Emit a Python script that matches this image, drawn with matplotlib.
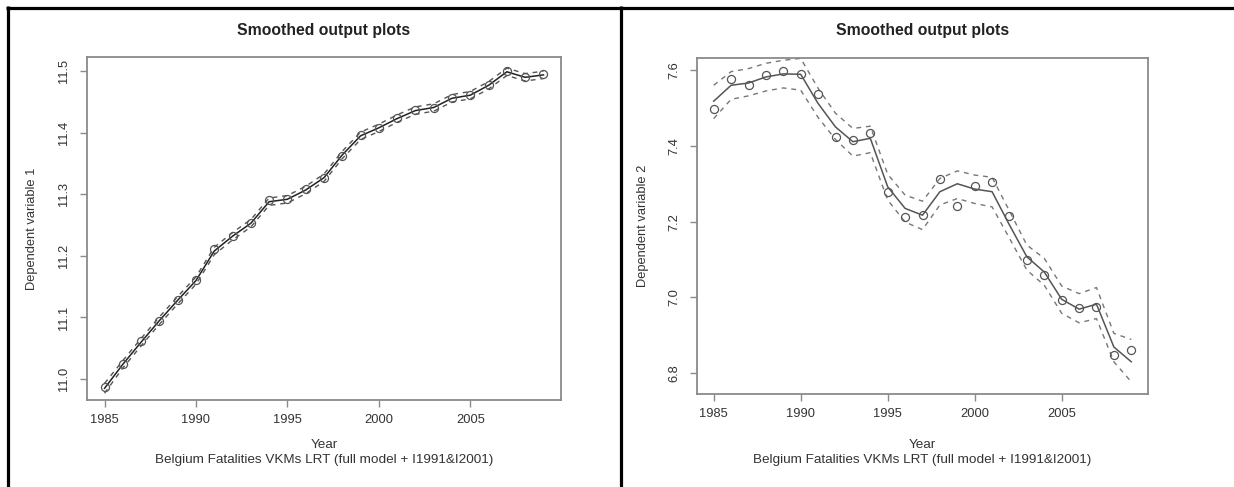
import matplotlib
matplotlib.use("Agg")
import matplotlib.pyplot as plt
from matplotlib.lines import Line2D

plt.rcParams["font.family"] = ["Liberation Sans", "DejaVu Sans"]

years = list(range(1985, 2010))

# Dependent variable 1: observations, smoothed estimate and its bands
obs1 = [10.987, 11.024, 11.061, 11.095, 11.128, 11.161, 11.211, 11.233, 11.254, 11.290,
        11.292, 11.308, 11.326, 11.363, 11.396, 11.407, 11.424, 11.437, 11.440, 11.457,
        11.461, 11.477, 11.500, 11.490, 11.495]
fit1 = [10.985, 11.024, 11.060, 11.095, 11.128, 11.160, 11.208, 11.232, 11.253, 11.288,
        11.292, 11.307, 11.327, 11.364, 11.395, 11.408, 11.423, 11.436, 11.441, 11.456,
        11.461, 11.477, 11.499, 11.490, 11.494]
up1 = [10.993, 11.030, 11.066, 11.101, 11.134, 11.166, 11.214, 11.238, 11.259, 11.294,
       11.298, 11.313, 11.333, 11.370, 11.401, 11.414, 11.429, 11.442, 11.447, 11.462,
       11.467, 11.483, 11.505, 11.496, 11.500]
lo1 = [10.977, 11.018, 11.054, 11.089, 11.122, 11.154, 11.202, 11.226, 11.247, 11.282,
       11.286, 11.301, 11.321, 11.358, 11.389, 11.402, 11.417, 11.430, 11.435, 11.450,
       11.455, 11.471, 11.493, 11.484, 11.488]

# Dependent variable 2
obs2 = [7.497, 7.577, 7.562, 7.586, 7.598, 7.591, 7.537, 7.423, 7.415, 7.434,
        7.278, 7.212, 7.217, 7.313, 7.242, 7.294, 7.304, 7.214, 7.100, 7.058,
        6.993, 6.973, 6.975, 6.848, 6.861]
fit2 = [7.518, 7.560, 7.566, 7.582, 7.590, 7.589, 7.512, 7.450, 7.411, 7.420,
        7.292, 7.235, 7.217, 7.279, 7.300, 7.286, 7.279, 7.191, 7.107, 7.067,
        6.995, 6.969, 6.982, 6.869, 6.830]
up2 = [7.560, 7.596, 7.604, 7.618, 7.626, 7.631, 7.552, 7.486, 7.446, 7.452,
       7.325, 7.270, 7.254, 7.314, 7.334, 7.323, 7.317, 7.228, 7.138, 7.103,
       7.030, 7.010, 7.026, 6.905, 6.889]
lo2 = [7.472, 7.523, 7.532, 7.545, 7.553, 7.547, 7.475, 7.417, 7.373, 7.382,
       7.257, 7.199, 7.179, 7.244, 7.261, 7.248, 7.239, 7.156, 7.072, 7.032,
       6.958, 6.933, 6.944, 6.830, 6.777]

x_ticks = [1985, 1990, 1995, 2000, 2005]
y_ticks1 = [11.0, 11.1, 11.2, 11.3, 11.4, 11.5]
y_ticks2 = [6.8, 7.0, 7.2, 7.4, 7.6]
title = "Smoothed output plots"
x_label = "Year"
subtitle = "Belgium Fatalities VKMs LRT (full model + I1991&I2001)"
y_labels = ["Dependent variable 1", "Dependent variable 2"]

W, H = 1234, 487
fig = plt.figure(figsize=(W / 100, H / 100), dpi=100)
fig.patch.set_facecolor("white")


def px_axes(l, t, r, b):
    return fig.add_axes([l / W, 1 - b / H, (r - l) / W, (b - t) / H])


def fx(x):
    return x / W


def fy(y):
    return 1 - y / H


spine_col = "#8a8a8a"
text_col = "#333333"
fs = 9.3

panels = [
    dict(box=(87, 57, 561, 400), ylim=(10.966, 11.523), yt=y_ticks1,
         obs=obs1, fit=fit1, up=up1, lo=lo1, ylab=y_labels[0], ylab_x=32,
         line_col="#222222", band_col="#555555"),
    dict(box=(697, 58, 1148, 394), ylim=(6.745, 7.632), yt=y_ticks2,
         obs=obs2, fit=fit2, up=up2, lo=lo2, ylab=y_labels[1], ylab_x=643,
         line_col="#555555", band_col="#777777"),
]

for p in panels:
    l, t, r, b = p["box"]
    ax = px_axes(l, t, r, b)
    ax.plot(years, p["up"], ls=(0, (3.5, 3.5)), color=p["band_col"], lw=1.0)
    ax.plot(years, p["lo"], ls=(0, (3.5, 3.5)), color=p["band_col"], lw=1.0)
    ax.plot(years, p["fit"], color=p["line_col"], lw=1.1)
    ax.plot(years, p["obs"], ls="none", marker="o", ms=5.8, mfc="none",
            mec="#555555", mew=0.9)
    ax.set_xlim(1984.04, 2009.96)
    ax.set_ylim(*p["ylim"])
    ax.set_xticks(x_ticks)
    ax.set_yticks(p["yt"])
    ax.set_xticklabels([str(v) for v in x_ticks])
    ax.set_yticklabels([f"{v:.1f}" for v in p["yt"]], rotation=90, va="center")
    for s in ax.spines.values():
        s.set_color(spine_col)
        s.set_linewidth(1.3)
    ax.tick_params(direction="out", length=5, width=1.0, color=spine_col,
                   labelsize=fs, labelcolor=text_col)
    ax.tick_params(axis="y", pad=7)
    ax.tick_params(axis="x", pad=5)
    cx = (l + r) / 2
    fig.text(fx(cx), fy(30), title, ha="center", va="center",
             fontsize=11.3, fontweight="bold", color="#222222")
    fig.text(fx(cx), fy(445), x_label, ha="center", va="center",
             fontsize=fs + 0.4, color=text_col)
    fig.text(fx(cx), fy(460), subtitle, ha="center", va="center",
             fontsize=fs + 0.4, color=text_col)
    fig.text(fx(p["ylab_x"]), fy((t + b) / 2), p["ylab"], ha="center",
             va="center", rotation=90, fontsize=fs, color=text_col)

# table frame around the two panels
frame = dict(color="black", lw=2.3, transform=fig.transFigure, solid_capstyle="butt")
fig.add_artist(Line2D([fx(6), fx(W)], [fy(7.5), fy(7.5)], **frame))
fig.add_artist(Line2D([fx(7.5), fx(7.5)], [fy(6), fy(H)], **frame))
fig.add_artist(Line2D([fx(621), fx(621)], [fy(6), fy(H)], **frame))

fig.savefig("out.png", dpi=100)
